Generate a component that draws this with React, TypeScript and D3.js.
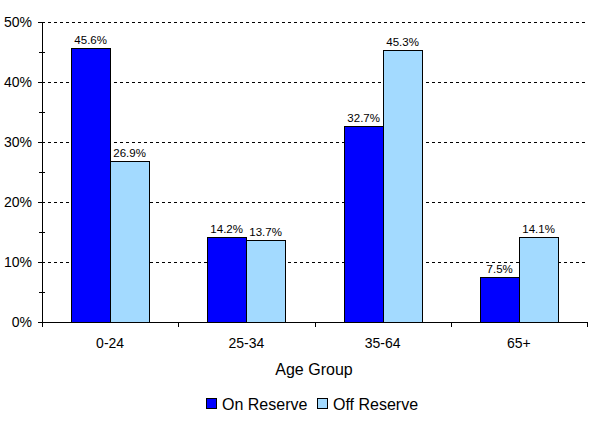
import * as React from "react";
import * as d3 from "d3";

const ageGroups = ["0-24", "25-34", "35-64", "65+"];
const seriesNames = ["On Reserve", "Off Reserve"];
const onReserve = [45.6, 14.2, 32.7, 7.5];
const offReserve = [26.9, 13.7, 45.3, 14.1];
const yTicks = [0, 10, 20, 30, 40, 50];
const yMinorTicks = [5, 15, 25, 35, 45];

const font = "'Liberation Sans', Arial, sans-serif";

export default function App() {
    const svgRef = React.useRef<SVGSVGElement>(null);

    React.useEffect(() => {
        const svgWidth = 590;
        const svgHeight = 423;
        const margin = { top: 22, right: 3, bottom: 101, left: 42 };
        const plotRight = svgWidth - margin.right;
        const plotBottom = svgHeight - margin.bottom;

        const svg = d3.select(svgRef.current);
        svg.selectAll("*").remove();
        svg.attr("width", svgWidth).attr("height", svgHeight);

        // the checkered light blue of the original, as its blended colour
        const fills = ["#0000ff", "#a3daff"];

        const x0 = d3.scaleBand<string>()
            .domain(ageGroups)
            .range([margin.left, plotRight])
            .padding(0);
        const x1 = d3.scaleBand<string>()
            .domain(seriesNames)
            .range([0, x0.bandwidth()])
            .paddingInner(0)
            .paddingOuter(0.75);
        const y = d3.scaleLinear()
            .domain([0, 50])
            .range([plotBottom, margin.top]);

        // gridlines
        svg.append("g")
            .selectAll("line")
            .data(yTicks.filter(t => t > 0))
            .enter()
            .append("line")
            .attr("x1", margin.left)
            .attr("x2", plotRight)
            .attr("y1", d => Math.round(y(d)) + 0.5)
            .attr("y2", d => Math.round(y(d)) + 0.5)
            .attr("stroke", "#000")
            .attr("stroke-dasharray", "3,3")
            .attr("shape-rendering", "crispEdges");

        // bars
        const rows = ageGroups.map((g, i) => ({ group: g, values: [onReserve[i], offReserve[i]] }));
        const groups = svg.append("g")
            .selectAll("g")
            .data(rows)
            .enter()
            .append("g")
            .attr("transform", d => `translate(${Math.round(x0(d.group)!)},0)`);

        groups.selectAll("rect")
            .data(d => d.values.map((v, j) => ({ name: seriesNames[j], value: v, j })))
            .enter()
            .append("rect")
            .attr("x", d => Math.round(x1(d.name)!) + 0.5)
            .attr("y", d => Math.round(y(d.value)) + 0.5)
            .attr("width", Math.round(x1.bandwidth()))
            .attr("height", d => Math.round(y(0)) - Math.round(y(d.value)))
            .attr("fill", d => fills[d.j])
            .attr("stroke", "#000")
            .attr("stroke-width", 1)
            .attr("shape-rendering", "crispEdges");

        groups.selectAll("text")
            .data(d => d.values.map((v, j) => ({ name: seriesNames[j], value: v })))
            .enter()
            .append("text")
            .attr("x", d => x1(d.name)! + x1.bandwidth() / 2)
            .attr("y", d => y(d.value) - 4)
            .attr("text-anchor", "middle")
            .attr("font-family", font)
            .attr("font-size", 11.5)
            .text(d => d.value.toFixed(1) + "%");

        // y axis
        const yAxis = svg.append("g").attr("shape-rendering", "crispEdges");
        yAxis.append("line")
            .attr("x1", margin.left + 0.5).attr("x2", margin.left + 0.5)
            .attr("y1", margin.top).attr("y2", plotBottom)
            .attr("stroke", "#000");
        yAxis.selectAll(".major")
            .data(yTicks)
            .enter()
            .append("line")
            .attr("x1", margin.left - 4).attr("x2", margin.left)
            .attr("y1", d => Math.round(y(d)) + 0.5)
            .attr("y2", d => Math.round(y(d)) + 0.5)
            .attr("stroke", "#000");
        yAxis.selectAll(".minor")
            .data(yMinorTicks)
            .enter()
            .append("line")
            .attr("x1", margin.left - 3).attr("x2", margin.left + 3)
            .attr("y1", d => Math.round(y(d)) + 0.5)
            .attr("y2", d => Math.round(y(d)) + 0.5)
            .attr("stroke", "#000");
        yAxis.selectAll("text")
            .data(yTicks)
            .enter()
            .append("text")
            .attr("x", margin.left - 10)
            .attr("y", d => y(d))
            .attr("dy", "0.35em")
            .attr("text-anchor", "end")
            .attr("font-family", font)
            .attr("font-size", 14)
            .text(d => d + "%");

        // x axis
        const xAxis = svg.append("g").attr("shape-rendering", "crispEdges");
        xAxis.append("line")
            .attr("x1", margin.left).attr("x2", plotRight)
            .attr("y1", plotBottom + 0.5).attr("y2", plotBottom + 0.5)
            .attr("stroke", "#000");
        const boundaries = ageGroups.map(g => x0(g)!).concat([plotRight]);
        xAxis.selectAll(".tick")
            .data(boundaries)
            .enter()
            .append("line")
            .attr("x1", d => Math.round(d) + 0.5).attr("x2", d => Math.round(d) + 0.5)
            .attr("y1", plotBottom).attr("y2", plotBottom + 5)
            .attr("stroke", "#000");
        xAxis.selectAll("text")
            .data(ageGroups)
            .enter()
            .append("text")
            .attr("x", d => x0(d)! + x0.bandwidth() / 2)
            .attr("y", plotBottom + 26)
            .attr("text-anchor", "middle")
            .attr("font-family", font)
            .attr("font-size", 14)
            .text(d => d);

        svg.append("text")
            .attr("x", 314)
            .attr("y", 375)
            .attr("text-anchor", "middle")
            .attr("font-family", font)
            .attr("font-size", 16)
            .text("Age Group");

        // legend
        const legendX = [206, 317];
        const legend = svg.append("g")
            .selectAll("g")
            .data(seriesNames)
            .enter()
            .append("g")
            .attr("transform", (d, i) => `translate(${legendX[i]},398)`);
        legend.append("rect")
            .attr("x", 0.5).attr("y", 0.5)
            .attr("width", 10).attr("height", 10)
            .attr("fill", (d, i) => fills[i])
            .attr("stroke", "#000")
            .attr("shape-rendering", "crispEdges");
        legend.append("text")
            .attr("x", 16)
            .attr("y", 12)
            .attr("font-family", font)
            .attr("font-size", 16)
            .text(d => d);
    }, []);

    return (
        <div style={{ position: "absolute", left: 0, top: 0 }}>
            <svg ref={svgRef} />
        </div>
    );
}
